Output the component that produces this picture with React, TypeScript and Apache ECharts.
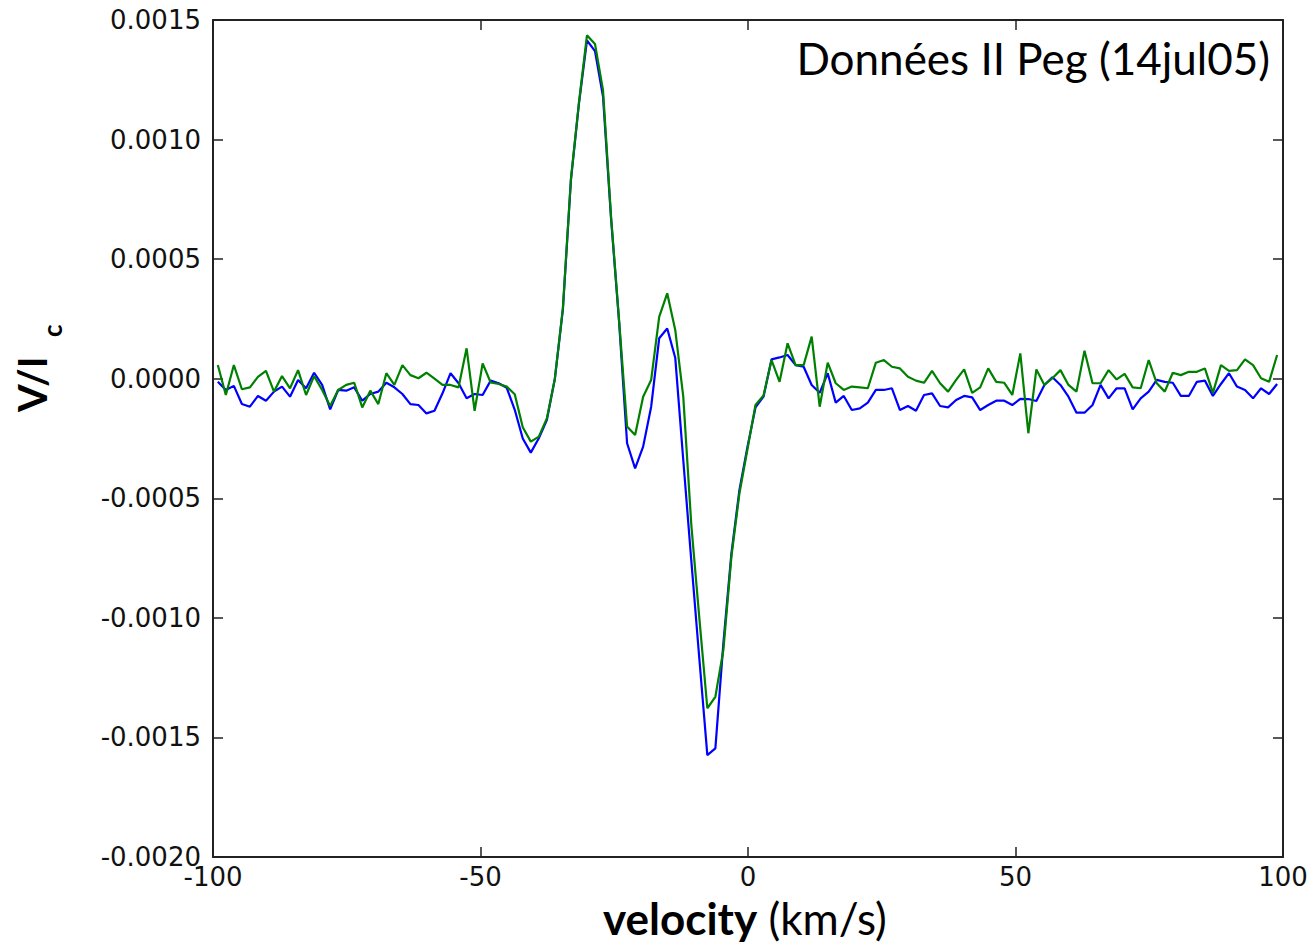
import React, { useEffect, useRef } from "react";
import * as echarts from "echarts";

const velocities = [
  -99.1, -97.6, -96.1, -94.6, -93.1, -91.6, -90.1, -88.6, -87.1, -85.6, -84.1, -82.6, -81.1, -79.6, -78.1, -76.6, -75.1,
  -73.6, -72.1, -70.6, -69.1, -67.6, -66.1, -64.6, -63.1, -61.6, -60.1, -58.6, -57.1, -55.6, -54.1, -52.6, -51.1, -49.6,
  -48.1, -46.6, -45.1, -43.6, -42.1, -40.6, -39.1, -37.6, -36.1, -34.6, -33.1, -31.6, -30.1, -28.6, -27.1, -25.6, -24.1,
  -22.6, -21.1, -19.6, -18.1, -16.6, -15.1, -13.6, -12.1, -10.6, -9.1, -7.6, -6.1, -4.6, -3.1, -1.6, -0.1, 1.4, 2.9,
  4.4, 5.9, 7.4, 8.9, 10.4, 11.9, 13.4, 14.9, 16.4, 17.9, 19.4, 20.9, 22.4, 23.9, 25.4, 26.9, 28.4, 29.9, 31.4, 32.9,
  34.4, 35.9, 37.4, 38.9, 40.4, 41.9, 43.4, 44.9, 46.4, 47.9, 49.4, 50.9, 52.4, 53.9, 55.4, 56.9, 58.4, 59.9, 61.4, 62.9,
  64.4, 65.9, 67.4, 68.9, 70.4, 71.9, 73.4, 74.9, 76.4, 77.9, 79.4, 80.9, 82.4, 83.9, 85.4, 86.9, 88.4, 89.9, 91.4, 92.9,
  94.4, 95.9, 97.4, 98.9,
];

// values in units of 1e-5 (V/Ic)
const blueVals = [
  -1.3, -4.7, -3.0, -10.6, -11.7, -7.2, -9.2, -5.4, -3.3, -7.5, -0.5, -4.0, 2.5, -2.6, -12.8, -4.7, -5.0, -3.6, -9.2,
  -6.4, -5.4, -1.7, -3.6, -6.4, -10.6, -11.0, -14.5, -13.4, -6.1, 2.3, -1.9, -8.2, -6.4, -6.8, -0.8, -1.9, -3.8, -13,
  -25, -30.9, -24.9, -17.3, 0, 29, 83, 115, 141.5, 137, 118, 67, 24, -27, -37.5, -28.4, -11.7, 16.9, 21, 8.8, -34, -76,
  -117, -157.4, -154.6, -110.6, -73, -46.5, -28.5, -12, -7.5, 8.1, 8.9, 9.9, 5.7, 5.0, -2.6, -5.9, 2.3, -10.0, -7.2,
  -13.1, -12.4, -10.0, -4.7, -4.7, -4.0, -13.1, -11.4, -13.4, -6.8, -6.1, -11.4, -12.0, -8.9, -7.2, -7.8, -13.1, -11.0,
  -9.2, -9.2, -11.0, -8.4, -8.5, -9.3, -2.6, 0.6, -2.6, -7.5, -14.2, -14.2, -11.0, -2.6, -8.2, -4.0, -4.0, -12.8, -8.2,
  -5.4, -0.5, -1.3, -1.7, -7.2, -7.2, -1.3, -0.8, -7.2, -2.2, 2.3, -3.3, -4.7, -8.2, -4.0, -6.4, -2.2,
];

const greenVals = [
  5.7, -6.8, 5.7, -4.4, -3.6, 0.8, 3.3, -5.4, 1.1, -4.0, 3.6, -6.8, 1.1, -4.7, -11.4, -4.7, -2.6, -1.7, -12.0, -5.0,
  -10.6, 2.3, -2.6, 5.7, 1.5, 0.2, 2.5, 0, -2.6, -2.6, -3.6, 12.7, -13.4, 6.4, -1.6, -2.2, -3.3, -6.5, -20.3, -26.3,
  -24.2, -16.6, 0, 29.5, 83.5, 115.5, 143.6, 140, 120.7, 68, 24.5, -20, -23.5, -7.5, -0.5, 25.9, 35.7, 20.4, -7.5, -61,
  -100, -137.8, -133, -113.4, -74.4, -47.9, -29.5, -11, -7, 7.8, -1.3, 14.8, 5.7, 5.7, 17.6, -11.7, 6.7, -1.9, -4.7,
  -3.3, -3.6, -4.0, 6.7, 7.8, 5.0, 4.3, 0.8, -0.8, -1.7, 3.3, -1.9, -5.4, -0.5, 3.9, -5.9, -3.6, 4.3, -1.3, -1.7, -6.8,
  10.6, -22.8, 3.9, -2.6, 0.2, 3.6, -2.6, -5.4, 11.7, -1.9, -1.9, 3.6, -0.3, 2.0, -3.6, -4.0, 7.8, -1.9, -5.4, 2.5, 1.5,
  2.9, 2.9, 4.3, -5.9, 5.7, 3.3, 3.6, 8.1, 5.7, 0.2, -1.3, 9.9,
];

const xTicks = { min: -100, max: 100, interval: 50 };
const yTicks = { min: -0.002, max: 0.0015, interval: 0.0005 };

const FRAME = "#222222";
const TICK_FONT = "'DejaVu Sans', sans-serif";
const TITLE_FONT = "Lato, 'Open Sans', sans-serif";

export default function App() {
  const ref = useRef<HTMLDivElement>(null);
  useEffect(() => {
    if (!ref.current) return;
    const chart = echarts.init(ref.current, null, { renderer: "svg" });
    const toPairs = (vals: number[]) => vals.map((v, i) => [velocities[i], v * 1e-5]);
    const fmtY = (v: number) => (Math.abs(v) < 1e-12 ? "0.0000" : v.toFixed(4));
    const tickStyle = { show: true, inside: true, length: 10, lineStyle: { color: FRAME, width: 1.5 } };
    const lineStyle = { show: true, lineStyle: { color: FRAME, width: 2 } };
    chart.setOption({
      animation: false,
      backgroundColor: "#ffffff",
      grid: { left: 213, top: 20, width: 1070, height: 837, show: false },
      xAxis: [
        {
          type: "value",
          position: "bottom",
          ...xTicks,
          axisLine: { ...lineStyle, onZero: false },
          axisTick: tickStyle,
          splitLine: { show: false },
          axisLabel: { fontFamily: TICK_FONT, fontSize: 26, color: "#111", margin: 7 },
        },
        {
          type: "value",
          position: "top",
          ...xTicks,
          axisLine: { ...lineStyle, onZero: false },
          axisTick: tickStyle,
          splitLine: { show: false },
          axisLabel: { show: false },
        },
      ],
      yAxis: [
        {
          type: "value",
          position: "left",
          ...yTicks,
          axisLine: { ...lineStyle, onZero: false },
          axisTick: tickStyle,
          splitLine: { show: false },
          axisLabel: { fontFamily: TICK_FONT, fontSize: 26, color: "#111", margin: 12, formatter: fmtY },
        },
        {
          type: "value",
          position: "right",
          ...yTicks,
          axisLine: { ...lineStyle, onZero: false },
          axisTick: tickStyle,
          splitLine: { show: false },
          axisLabel: { show: false },
        },
      ],
      series: [
        {
          type: "line",
          name: "blue",
          data: toPairs(blueVals),
          showSymbol: false,
          lineStyle: { color: "#0000ff", width: 2.2 },
          itemStyle: { color: "#0000ff" },
          xAxisIndex: 0,
          yAxisIndex: 0,
        },
        {
          type: "line",
          name: "green",
          data: toPairs(greenVals),
          showSymbol: false,
          lineStyle: { color: "#008000", width: 2.2 },
          itemStyle: { color: "#008000" },
          xAxisIndex: 0,
          yAxisIndex: 0,
        },
      ],
      graphic: [
        {
          type: "text",
          right: 44,
          top: 36,
          style: {
            text: "Données II Peg (14jul05)",
            fontFamily: TITLE_FONT,
            fontSize: 44,
            fill: "#000",
          },
        },
        {
          type: "text",
          left: 603,
          top: 896,
          style: {
            text: "{b|velocity}{n| (km/s)}",
            rich: {
              b: { fontFamily: TITLE_FONT, fontSize: 44, fontWeight: "bold", fill: "#000" },
              n: { fontFamily: TITLE_FONT, fontSize: 44, fill: "#000" },
            },
          },
        },
        {
          type: "group",
          x: 52,
          y: 412,
          rotation: Math.PI / 2,
          children: [
            {
              type: "text",
              x: 0,
              y: 0,
              style: {
                text: "V/I",
                fontFamily: TITLE_FONT,
                fontSize: 40,
                fontWeight: "bold",
                fill: "#000",
                textAlign: "left",
                textVerticalAlign: "bottom",
              },
            },
            {
              type: "text",
              x: 75,
              y: 13,
              style: {
                text: "c",
                fontFamily: TITLE_FONT,
                fontSize: 26,
                fontWeight: "bold",
                fill: "#000",
                textAlign: "left",
                textVerticalAlign: "bottom",
              },
            },
          ],
        },
      ],
    });
    return () => chart.dispose();
  }, []);
  return (
    <div
      ref={ref}
      style={{ position: "fixed", left: 0, top: 0, width: 1314, height: 946, background: "#fff" }}
    />
  );
}
